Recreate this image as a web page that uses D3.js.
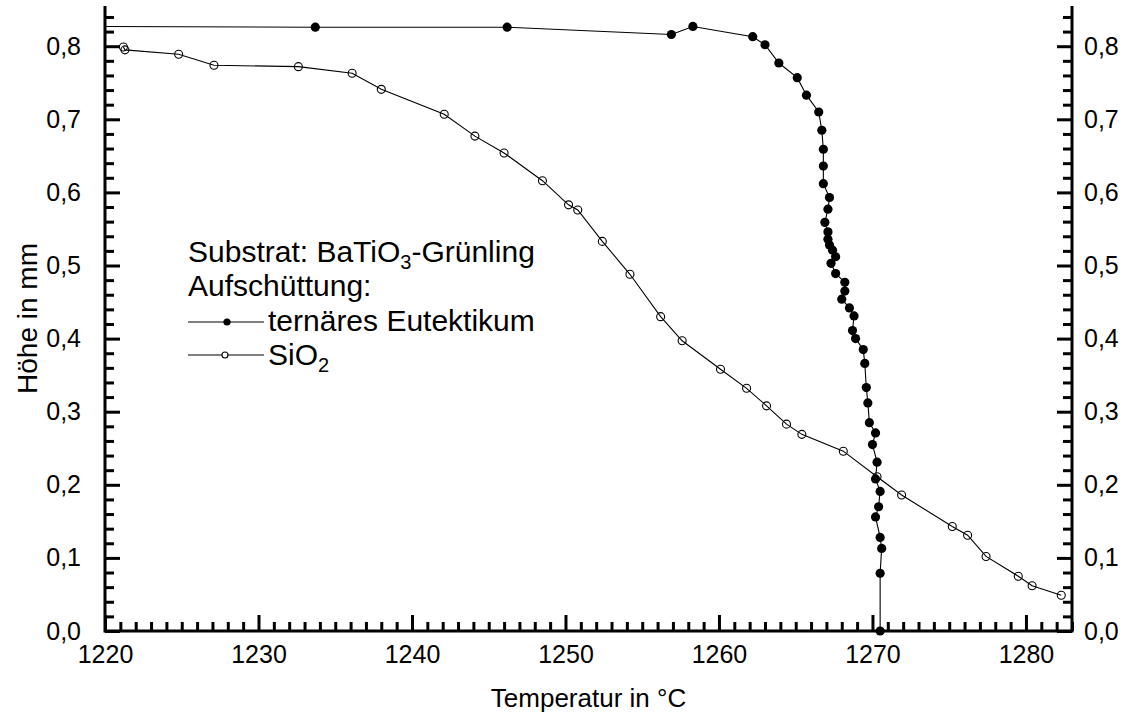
<!DOCTYPE html>
<html>
<head>
<meta charset="utf-8">
<script src="https://cdn.jsdelivr.net/npm/d3@7"></script>
<style>
  html, body { margin: 0; padding: 0; background: #fff; }
  svg { display: block; font-family: "Liberation Sans", Arial, sans-serif; }
</style>
</head>
<body>
<svg id="chart" width="1126" height="724"></svg>
<script>
// ---- data ----
const eutTemp = [1219.5, 1233.7, 1246.2, 1256.9, 1258.3, 1262.2, 1263.0, 1263.9, 1265.1, 1265.7, 1266.5, 1266.7, 1266.8, 1266.8,
  1266.8, 1267.2, 1267.1, 1266.9, 1267.1, 1267.1, 1267.2, 1267.4, 1267.6, 1267.3, 1267.6, 1268.2, 1268.2, 1268.0, 1268.5, 1268.8,
  1268.7, 1268.9, 1269.4, 1269.5, 1269.6, 1269.7, 1269.8, 1270.2, 1270.0, 1270.3, 1270.2, 1270.5, 1270.4, 1270.2, 1270.5, 1270.6,
  1270.5, 1270.5];
const eutHeight = [0.827, 0.826, 0.826, 0.816, 0.827, 0.813, 0.802, 0.777, 0.757, 0.733, 0.710, 0.685, 0.659, 0.636,
  0.612, 0.593, 0.577, 0.559, 0.546, 0.536, 0.528, 0.521, 0.512, 0.503, 0.489, 0.477, 0.465, 0.454, 0.442, 0.431,
  0.411, 0.400, 0.385, 0.366, 0.333, 0.312, 0.285, 0.271, 0.255, 0.231, 0.208, 0.191, 0.170, 0.156, 0.128, 0.113,
  0.079, 0.000];

const sioTemp = [1221.2, 1221.3, 1224.8, 1227.1, 1232.6, 1236.1, 1238.0, 1242.1, 1244.1, 1246.0, 1248.5, 1250.2, 1250.8,
  1252.4, 1254.2, 1256.2, 1257.6, 1260.1, 1261.8, 1263.1, 1264.4, 1265.4, 1268.1, 1270.3, 1271.9, 1275.2, 1276.2,
  1277.4, 1279.5, 1280.4, 1282.3];
const sioHeight = [0.799, 0.795, 0.789, 0.774, 0.772, 0.763, 0.741, 0.707, 0.677, 0.654, 0.616, 0.583, 0.576,
  0.533, 0.488, 0.430, 0.397, 0.358, 0.332, 0.308, 0.283, 0.269, 0.246, 0.211, 0.186, 0.143, 0.131,
  0.102, 0.075, 0.062, 0.049];

const xTickValues = [1220, 1230, 1240, 1250, 1260, 1270, 1280];
const yTickValues = [0, 0.1, 0.2, 0.3, 0.4, 0.5, 0.6, 0.7, 0.8];
const xTitle = "Temperatur in °C";
const yTitle = "Höhe in mm";

// ---- layout ----
const L = 105, R = 1072, T = 6, B = 631;
const svg = d3.select("#chart");
const x = d3.scaleLinear().domain([1220, 1283]).range([L, R]);
const y = d3.scaleLinear().domain([0, 0.855]).range([B, T]);

const fmtY = d => d3.format(".1f")(d).replace(".", ",");
const tickFont = 25;

const xMinor = d3.range(1221, 1284, 1).filter(v => v % 10 !== 0);
const yMinor = d3.range(1, 43, 1).filter(i => i % 5 !== 0).map(i => i * 0.02);

// axes with inward ticks (d3 axis; labels kept separate so tick length does not move them)
function styleTicks(g, w) {
  g.select(".domain").remove();
  g.selectAll(".tick text").remove();
  g.selectAll(".tick line").attr("stroke", "#000").attr("stroke-width", w);
}
function styleLabels(g) {
  g.select(".domain").remove();
  g.selectAll(".tick line").remove();
  g.selectAll(".tick text").attr("font-size", tickFont).attr("fill", "#000")
    .attr("font-family", "Liberation Sans, Arial, sans-serif");
}
const axG = svg.append("g").attr("class", "axes");
axG.append("g").attr("transform", `translate(0,${B})`)
  .call(d3.axisTop(x).tickValues(xMinor).tickSize(9)).call(g => styleTicks(g, 3));
axG.append("g").attr("transform", `translate(0,${B})`)
  .call(d3.axisTop(x).tickValues(xTickValues).tickSize(16)).call(g => styleTicks(g, 3));
axG.append("g").attr("transform", `translate(${L},0)`)
  .call(d3.axisRight(y).tickValues(yMinor).tickSize(9)).call(g => styleTicks(g, 3));
axG.append("g").attr("transform", `translate(${L},0)`)
  .call(d3.axisRight(y).tickValues(yTickValues).tickSize(15)).call(g => styleTicks(g, 3));
axG.append("g").attr("transform", `translate(${R},0)`)
  .call(d3.axisLeft(y).tickValues(yMinor).tickSize(9)).call(g => styleTicks(g, 3));
axG.append("g").attr("transform", `translate(${R},0)`)
  .call(d3.axisLeft(y).tickValues(yTickValues).tickSize(15)).call(g => styleTicks(g, 3));

svg.append("g").attr("transform", `translate(0,${B})`)
  .call(d3.axisBottom(x).tickValues(xTickValues).tickSize(0).tickPadding(14).tickFormat(d3.format("d")))
  .call(styleLabels);
svg.append("g").attr("transform", `translate(${L},0)`)
  .call(d3.axisLeft(y).tickValues(yTickValues).tickSize(0).tickPadding(24).tickFormat(fmtY))
  .call(styleLabels);
svg.append("g").attr("transform", `translate(${R},0)`)
  .call(d3.axisRight(y).tickValues(yTickValues).tickSize(0).tickPadding(12).tickFormat(fmtY))
  .call(styleLabels);

// axis lines
svg.append("path").attr("d", `M${L},${T}V${B}H${R}V${T}`).attr("fill", "none")
  .attr("stroke", "#000").attr("stroke-width", 3);

// clip
svg.append("clipPath").attr("id", "plotclip").append("rect")
  .attr("x", L + 1).attr("y", 0).attr("width", R - L - 1).attr("height", B + 6);

const plot = svg.append("g").attr("clip-path", "url(#plotclip)");
const line = d3.line().x(d => x(d[0])).y(d => y(d[1]));

const eut = eutTemp.map((t, i) => [t, eutHeight[i]]);
const sio = sioTemp.map((t, i) => [t, sioHeight[i]]);

plot.append("path").datum(sio).attr("d", line).attr("fill", "none").attr("stroke", "#000").attr("stroke-width", 1.1);
plot.append("path").datum(eut).attr("d", line).attr("fill", "none").attr("stroke", "#000").attr("stroke-width", 1.1);

plot.selectAll("circle.sio").data(sio).join("circle").attr("class", "sio")
  .attr("cx", d => x(d[0])).attr("cy", d => y(d[1])).attr("r", 4)
  .attr("fill", "none").attr("stroke", "#000").attr("stroke-width", 1.1);
svg.selectAll("circle.eut").data(eut.filter(d => d[0] >= 1220)).join("circle").attr("class", "eut")
  .attr("cx", d => x(d[0])).attr("cy", d => y(d[1])).attr("r", 4.6)
  .attr("fill", "#000");

// axis titles
svg.append("text").attr("x", (L + R) / 2).attr("y", 707).attr("text-anchor", "middle")
  .attr("font-size", 26).text(xTitle);
svg.append("text").attr("transform", `translate(37,${(T + B) / 2}) rotate(-90)`).attr("text-anchor", "middle")
  .attr("font-size", 28).text(yTitle);

// legend
const lg = svg.append("g").attr("font-size", 30);
const t1 = lg.append("text").attr("x", 188).attr("y", 262);
t1.append("tspan").text("Substrat: BaTiO");
t1.append("tspan").attr("font-size", 20).attr("dy", 7).text("3");
t1.append("tspan").attr("dy", -7).text("-Grünling");
lg.append("text").attr("x", 188).attr("y", 296).text("Aufschüttung:");
lg.append("line").attr("x1", 188).attr("x2", 264).attr("y1", 322).attr("y2", 322).attr("stroke", "#000").attr("stroke-width", 1.1);
lg.append("circle").attr("cx", 227).attr("cy", 322).attr("r", 3.6).attr("fill", "#000");
lg.append("text").attr("x", 268).attr("y", 331).text("ternäres Eutektikum");
lg.append("line").attr("x1", 188).attr("x2", 264).attr("y1", 355).attr("y2", 355).attr("stroke", "#000").attr("stroke-width", 1.1);
lg.append("circle").attr("cx", 225).attr("cy", 355).attr("r", 3).attr("fill", "#fff").attr("stroke", "#000").attr("stroke-width", 1.1);
const t2 = lg.append("text").attr("x", 268).attr("y", 365);
t2.append("tspan").text("SiO");
t2.append("tspan").attr("font-size", 20).attr("dy", 7).text("2");
</script>
</body>
</html>
